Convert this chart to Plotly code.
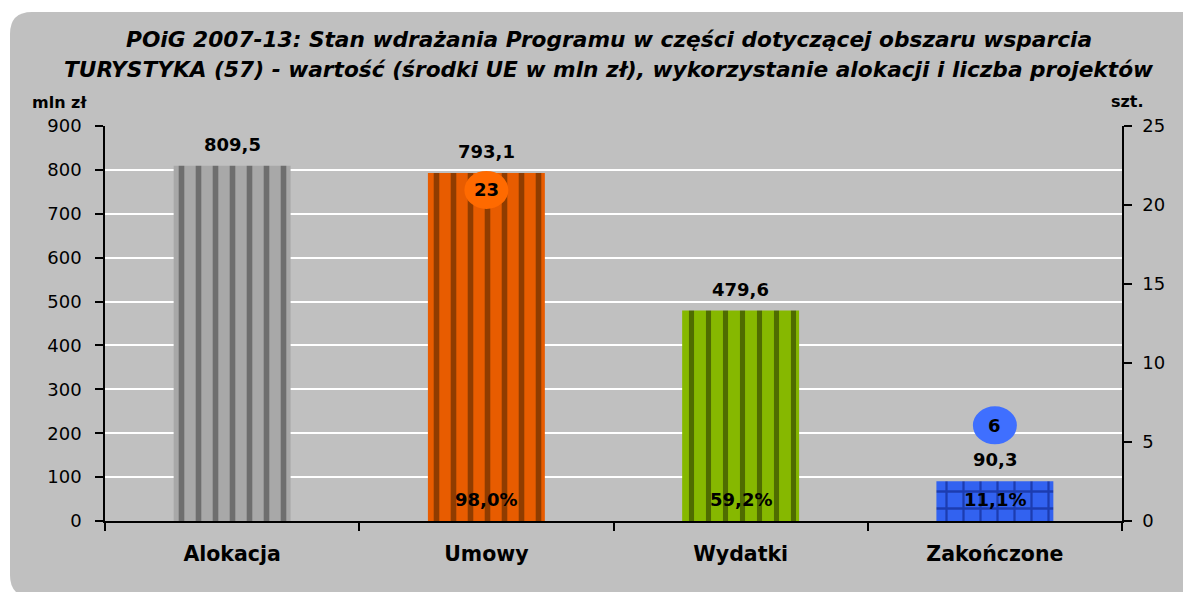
import plotly.graph_objects as go

categories = ["Alokacja", "Umowy", "Wydatki", "Zakończone"]
values_mln = [809.5, 793.1, 479.6, 90.3]
alloc_pct = [None, 98.0, 59.2, 11.1]
project_counts = [None, 23, None, 6]
y_ticks = [0, 100, 200, 300, 400, 500, 600, 700, 800, 900]
y2_ticks = [0, 5, 10, 15, 20, 25]

title_line1 = "POiG 2007-13: Stan wdrażania Programu w części dotyczącej obszaru wsparcia"
title_line2 = "TURYSTYKA (57) - wartość (środki UE w mln zł), wykorzystanie alokacji i liczba projektów"

# styles
bar_bg = ["#a8a8a8", "#e85c00", "#86b800", "#3262f0"]
bar_fg = ["#6e6e6e", "#8f3c00", "#4f6c00", "#1c3cb0"]
bar_shape = ["|", "|", "|", "+"]
bar_solidity = [0.33, 0.33, 0.3, 0.25]
bubble_colors = [None, "#ff6a00", None, "#3f6fff"]
bubble_offset_px = [None, -17, None, 56]
FONT = "DejaVu Sans"

W, H = 1183, 592
L, R, T, B = 105, 61, 126, 71
pw, ph = W - L - R, H - T - B

def px_x(p):
    return (p - L) / pw

def px_y(p):
    return (H - B - p) / ph

fig = go.Figure()
for i, cat in enumerate(categories):
    fig.add_trace(go.Bar(
        x=[cat], y=[values_mln[i]],
        marker=dict(
            color=bar_bg[i], line=dict(width=0),
            pattern=dict(shape=bar_shape[i], fgcolor=bar_fg[i], bgcolor=bar_bg[i],
                         size=17, solidity=bar_solidity[i], fillmode="replace"),
        ),
        showlegend=False, hoverinfo="skip",
    ))
# invisible trace to activate secondary axis
fig.add_trace(go.Scatter(x=categories, y=[None] * 4, yaxis="y2", showlegend=False,
                         hoverinfo="skip", mode="markers"))

shapes = []
# rounded gray background
x0, y0, x1, y1 = px_x(10), px_y(12), px_x(W + 5), px_y(H + 5)
rx, ry = 22 / pw, 22 / ph
path = (f"M {x0 + rx},{y0} L {x1},{y0} L {x1},{y1} L {x0 + rx},{y1} "
        f"Q {x0},{y1} {x0},{y1 + ry} L {x0},{y0 - ry} Q {x0},{y0} {x0 + rx},{y0} Z")
shapes.append(dict(type="path", path=path, xref="paper", yref="paper",
                   fillcolor="#c0c0c0", line=dict(width=0), layer="below"))

annotations = []
# value labels above bars
for i, v in enumerate(values_mln):
    annotations.append(dict(x=categories[i], y=v, yanchor="bottom", yshift=9,
                            text="<b>" + f"{v:.1f}".replace(".", ",") + "</b>",
                            showarrow=False, font=dict(family=FONT, size=18, color="black")))

for i, cnt in enumerate(project_counts):
    if cnt is None:
        continue
    off = bubble_offset_px[i]
    shapes.append(dict(type="circle", xref="x", yref="y", xsizemode="pixel", ysizemode="pixel",
                       xanchor=i, yanchor=values_mln[i], x0=-22, x1=22, y0=off - 19, y1=off + 19,
                       fillcolor=bubble_colors[i], line=dict(width=0), layer="above"))
    annotations.append(dict(x=categories[i], y=values_mln[i], yshift=off, yanchor="middle",
                            text=f"<b>{cnt}</b>",
                            showarrow=False, font=dict(family=FONT, size=18, color="black")))

for i, p in enumerate(alloc_pct):
    if p is None:
        continue
    annotations.append(dict(x=categories[i], y=0, yanchor="bottom", yshift=9,
                            text="<b>" + f"{p:.1f}".replace(".", ",") + "%</b>",
                            showarrow=False, font=dict(family=FONT, size=18, color="black")))

annotations.append(dict(xref="paper", yref="paper", x=px_x(609), y=px_y(40),
                        xanchor="center", yanchor="middle", text=f"<b><i>{title_line1}</i></b>",
                        showarrow=False, font=dict(family=FONT, size=21.7, color="black")))
annotations.append(dict(xref="paper", yref="paper", x=px_x(609), y=px_y(70),
                        xanchor="center", yanchor="middle", text=f"<b><i>{title_line2}</i></b>",
                        showarrow=False, font=dict(family=FONT, size=21.7, color="black")))
annotations.append(dict(xref="paper", yref="paper", x=px_x(59), y=px_y(103),
                        xanchor="center", yanchor="middle", text="<b>mln zł</b>",
                        showarrow=False, font=dict(family=FONT, size=16, color="black")))
annotations.append(dict(xref="paper", yref="paper", x=px_x(1127), y=px_y(101),
                        xanchor="center", yanchor="middle", text="<b>szt.</b>",
                        showarrow=False, font=dict(family=FONT, size=16, color="black")))

fig.update_layout(
    width=W, height=H,
    margin=dict(l=L, r=R, t=T, b=B, autoexpand=False),
    paper_bgcolor="white", plot_bgcolor="#c0c0c0",
    separators=", ",
    barmode="overlay",
    bargap=0.54,
    shapes=shapes, annotations=annotations,
    xaxis=dict(type="category", categoryorder="array", categoryarray=categories,
               showline=True, linecolor="black", linewidth=1.5,
               ticks="outside", tickson="boundaries", ticklen=8, tickcolor="black", tickwidth=1.5,
               showgrid=False, ticklabelstandoff=14,
               tickfont=dict(family=FONT, size=20.5, color="black", weight="bold")),
    yaxis=dict(range=[0, 900], tickvals=y_ticks, showline=True, linecolor="black", linewidth=1.5,
               ticks="outside", ticklen=8, tickcolor="black", tickwidth=1.5,
               showgrid=True, gridcolor="white", gridwidth=2, zeroline=False,
               ticklabelstandoff=10,
               tickfont=dict(family=FONT, size=18, color="black")),
    yaxis2=dict(range=[0, 25], tickvals=y2_ticks, overlaying="y", side="right",
                showline=True, linecolor="black", linewidth=1.5,
                ticks="outside", ticklen=8, tickcolor="black", tickwidth=1.5,
                showgrid=False, zeroline=False, ticklabelstandoff=7,
                tickfont=dict(family=FONT, size=18, color="black")),
)

fig.write_html("out.html", config={"displayModeBar": False},
               post_script="document.body.style.margin='0';document.body.style.padding='0';")
